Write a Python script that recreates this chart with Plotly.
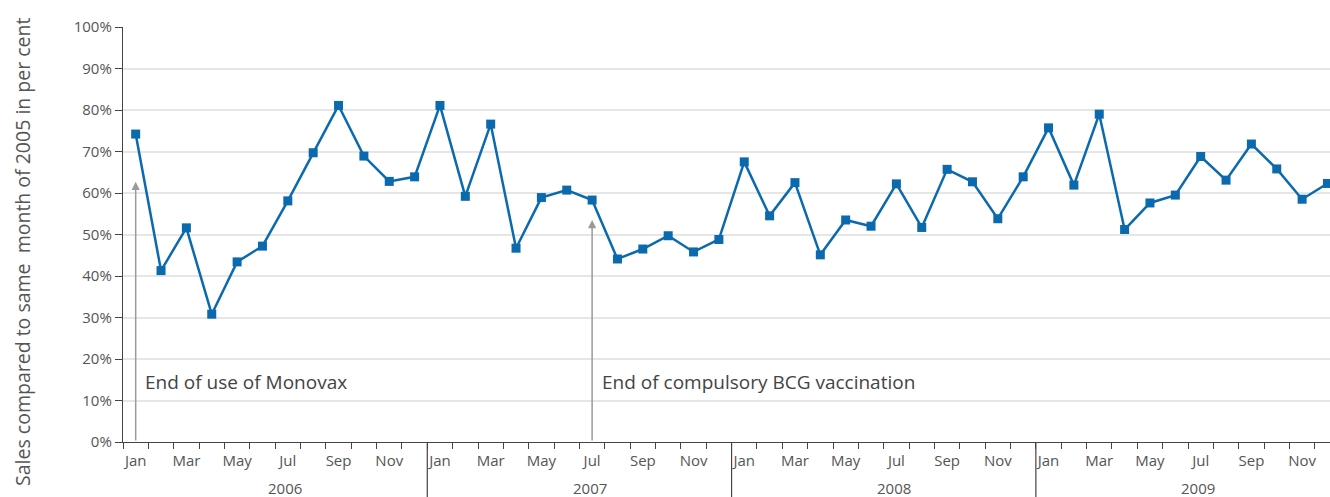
import plotly.graph_objects as go

years = ["2006", "2007", "2008", "2009"]
month_names = ["Jan", "Feb", "Mar", "Apr", "May", "Jun", "Jul", "Aug", "Sep", "Oct", "Nov", "Dec"]

sales_2006 = [74.2, 41.3, 51.6, 30.8, 43.4, 47.2, 58.1, 69.7, 81.1, 68.9, 62.8, 63.9]
sales_2007 = [81.1, 59.2, 76.6, 46.7, 58.9, 60.7, 58.3, 44.1, 46.5, 49.7, 45.8, 48.8]
sales_2008 = [67.5, 54.5, 62.5, 45.1, 53.5, 52.0, 62.2, 51.7, 65.7, 62.7, 53.8, 63.9]
sales_2009 = [75.7, 61.9, 79.0, 51.2, 57.6, 59.5, 68.8, 63.1, 71.8, 65.8, 58.5, 62.3]

y_ticks = [0, 10, 20, 30, 40, 50, 60, 70, 80, 90, 100]

events = [
    {"month": 0, "tip": 62.7, "text": "End of use of Monovax"},
    {"month": 18, "tip": 53.5, "text": "End of compulsory BCG vaccination"},
]

values = sales_2006 + sales_2007 + sales_2008 + sales_2009
x_idx = list(range(len(values)))

BLUE = "#0a6aad"
TEXT = "#555555"
AXIS = "#444444"
FONT = "Open Sans"

fig = go.Figure()
fig.add_trace(go.Scatter(
    x=x_idx, y=values, mode="lines+markers",
    line=dict(color=BLUE, width=2.5),
    marker=dict(symbol="square", size=9, color=BLUE),
    cliponaxis=False,
    showlegend=False,
))

month_ticks = [i for i in x_idx if i % 2 == 0]
month_text = [month_names[i % 12] for i in month_ticks]

annotations = []
for ev in events:
    annotations.append(dict(
        x=ev["month"], y=ev["tip"], ax=ev["month"], ay=0,
        xref="x", yref="y", axref="x", ayref="y",
        showarrow=True, arrowhead=2, arrowsize=1.1, arrowwidth=1.5,
        arrowcolor="#9a9a9a", text="",
    ))
    annotations.append(dict(
        x=ev["month"] + 0.3, y=14.5, xref="x", yref="y",
        text=ev["text"], showarrow=False, xanchor="left", yanchor="middle",
        font=dict(family=FONT, size=19, color="#444444"),
    ))

annotations.append(dict(
    x=0, y=0.458, xref="paper", yref="paper", xshift=-100,
    text="Sales compared to same\u00a0 month of 2005 in per cent",
    textangle=-90, showarrow=False, xanchor="center", yanchor="middle",
    font=dict(family=FONT, size=19.5, color=TEXT),
))

shapes = []
for k, yr in enumerate(years):
    annotations.append(dict(
        x=12 * k + 5.9, y=-0.11, xref="x", yref="paper",
        text=yr, showarrow=False, xanchor="center", yanchor="middle",
        font=dict(family=FONT, size=15, color=TEXT),
    ))
    if k > 0:
        shapes.append(dict(
            type="line", xref="x", yref="paper",
            x0=12 * k - 0.5, x1=12 * k - 0.5, y0=0, y1=-0.14,
            line=dict(color=AXIS, width=1.2),
        ))

fig.update_layout(
    width=1330, height=497,
    margin=dict(l=123, r=0, t=27, b=55),
    plot_bgcolor="white", paper_bgcolor="white",
    font=dict(family=FONT, size=15, color=TEXT),
    xaxis=dict(
        range=[-0.5, 47.1], automargin=False,
        tickvals=month_ticks, ticktext=month_text,
        ticks="", showgrid=False, zeroline=False,
        showline=True, linecolor=AXIS, linewidth=1.3,
        ticklabelstandoff=5,
        tickfont=dict(family=FONT, size=15, color=TEXT),
        minor=dict(tick0=-0.5, dtick=1, ticks="outside", ticklen=6,
                   tickcolor=AXIS, tickwidth=1.2, showgrid=False),
    ),
    yaxis=dict(
        range=[0, 100], automargin=False,
        tickvals=y_ticks, ticktext=[f"{v}%" for v in y_ticks],
        ticks="outside", ticklen=7, tickcolor=AXIS, tickwidth=1.2,
        showgrid=True, gridcolor="#e6e6e6", gridwidth=1.5,
        zeroline=False, showline=True, linecolor=AXIS, linewidth=1.3,
        tickfont=dict(family=FONT, size=15, color=TEXT),
    ),
    annotations=annotations,
    shapes=shapes,
)

fig.write_html(
    "out.html",
    config={"displayModeBar": False},
    post_script="document.body.style.margin='0';document.body.style.overflow='hidden';",
)
